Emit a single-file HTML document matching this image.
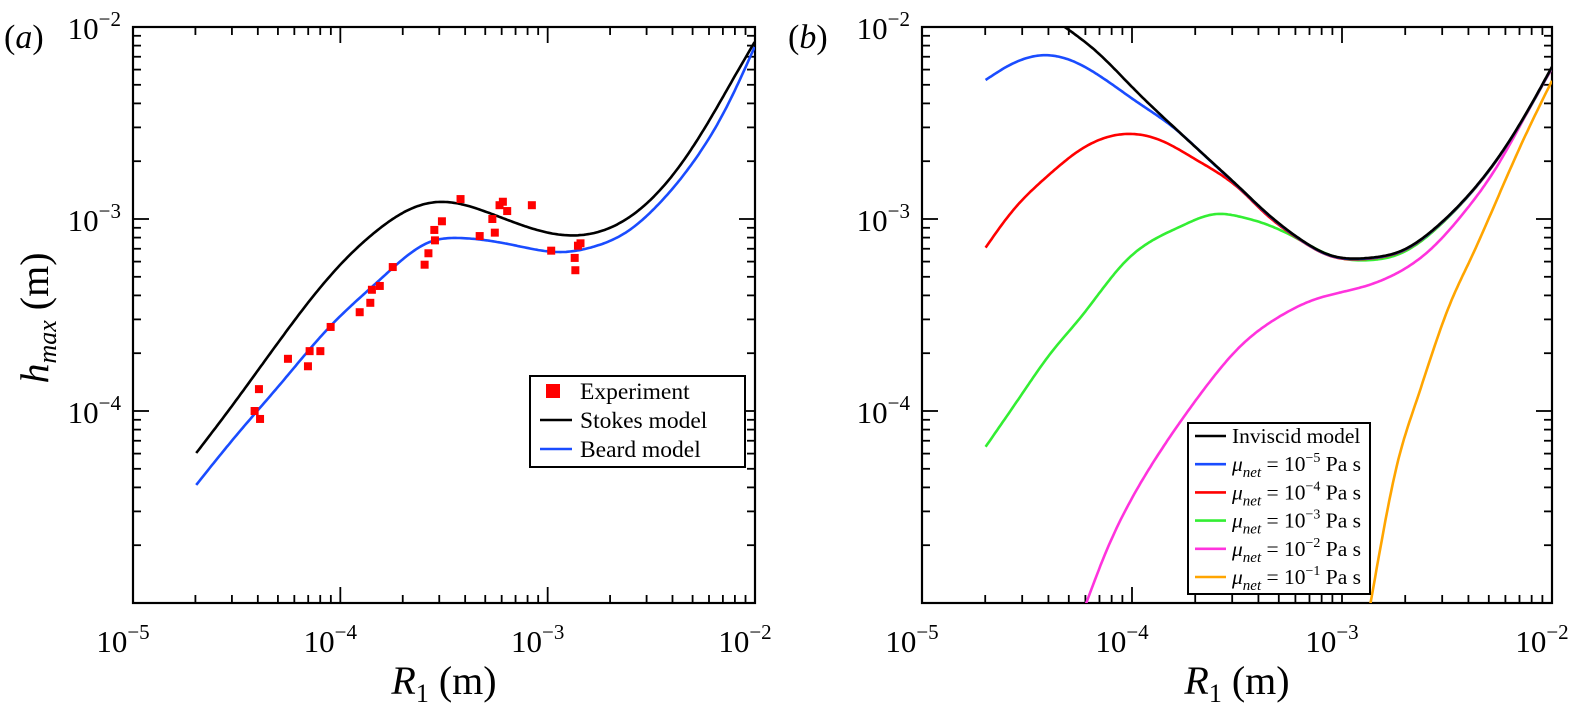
<!DOCTYPE html>
<html><head><meta charset="utf-8"><style>
html,body{margin:0;padding:0;background:#fff;}
svg{display:block;font-family:"Liberation Serif",serif;}
</style></head><body>
<svg id="fig" width="1579" height="716" viewBox="0 0 1579 716" xmlns="http://www.w3.org/2000/svg">
<defs>
<clipPath id="clipA"><rect x="133" y="27" width="622" height="576"/></clipPath>
<clipPath id="clipB"><rect x="922" y="27" width="630" height="576"/></clipPath>
</defs>
<g id="panelA"></g>
<g id="panelB"></g>
<text x="4" y="48" font-size="34">(<tspan font-style="italic">a</tspan>)</text>
<text x="788" y="48" font-size="34">(<tspan font-style="italic">b</tspan>)</text>
<text transform="translate(48,318) rotate(-90)" text-anchor="middle" font-size="40"><tspan font-style="italic">h</tspan><tspan font-style="italic" font-size="26" dy="8">max</tspan><tspan dy="-8"> (m)</tspan></text>
<text x="444" y="694" text-anchor="middle" font-size="40"><tspan font-style="italic">R</tspan><tspan font-size="26" dy="8">1</tspan><tspan dy="-8"> (m)</tspan></text>
<text x="1237" y="694" text-anchor="middle" font-size="40"><tspan font-style="italic">R</tspan><tspan font-size="26" dy="8">1</tspan><tspan dy="-8"> (m)</tspan></text>
</svg>
<script>
// ---- data (panel a) ----
const xTickExps = [-5, -4, -3, -2];
const yTickExps = [-5, -4, -3, -2];
// experiment points: R and h in units of 1e-4 m
const expR = [0.405,0.386,0.410,0.559,0.698,0.711,0.801,0.898,1.24,1.395,1.42,1.55,1.79,2.55,2.66,2.86,2.84,3.09,3.80,4.70,5.41,5.56,5.86,6.08,6.38,8.39,10.4,13.5,13.6,14.0,14.4];
const expH = [1.30,1.00,0.909,1.87,1.71,2.05,2.05,2.74,3.27,3.66,4.28,4.48,5.62,5.78,6.63,7.74,8.77,9.73,12.7,8.15,10.0,8.49,11.8,12.3,11.0,11.8,6.84,6.27,5.41,7.26,7.47];
// model curves, log10 values
const stokesLogR = [-4.695,-4.534,-4.291,-4.052,-3.811,-3.666,-3.521,-3.281,-2.929,-2.702,-2.542,-2.378,-2.219,-2.089,-2.002];
const stokesLogH = [-4.219,-3.990,-3.630,-3.300,-3.050,-2.950,-2.911,-2.969,-3.083,-3.047,-2.9375,-2.745,-2.484,-2.24,-2.078];
const beardLogR = [-4.695,-4.5,-4.291,-4.052,-3.811,-3.569,-3.425,-3.169,-2.929,-2.784,-2.620,-2.460,-2.301,-2.137,-2.002];
const beardLogH = [-4.385,-4.125,-3.862,-3.5625,-3.318,-3.12,-3.099,-3.135,-3.172,-3.146,-3.068,-2.917,-2.708,-2.417,-2.104];
// ---- data (panel b) ----
const invLogR = [-4.34,-4.327,-4.168,-3.994,-3.803,-3.613,-3.486,-3.375,-3.216,-3.057,-2.867,-2.708,-2.549,-2.390,-2.232,-2.105,-2.0];
const invLogH = [-1.985,-1.995,-2.129,-2.319,-2.519,-2.710,-2.838,-2.953,-3.092,-3.188,-3.202,-3.161,-3.040,-2.866,-2.641,-2.415,-2.207];
const mu5LogR = [-4.697,-4.597,-4.422,-4.295,-4.137,-3.978,-3.803,-3.613,-3.486,-3.375,-3.216,-3.057,-2.867,-2.708,-2.549,-2.390,-2.232,-2.105,-2.0];
const mu5LogH = [-2.276,-2.207,-2.147,-2.172,-2.267,-2.389,-2.523,-2.712,-2.840,-2.955,-3.094,-3.190,-3.204,-3.163,-3.042,-2.868,-2.643,-2.417,-2.209];
const mu4LogR = [-4.697,-4.565,-4.406,-4.248,-4.025,-3.867,-3.692,-3.486,-3.375,-3.216,-3.057,-2.867,-2.708,-2.549,-2.390,-2.232,-2.105,-2.0];
const mu4LogH = [-3.149,-2.953,-2.780,-2.641,-2.557,-2.589,-2.693,-2.845,-2.962,-3.097,-3.192,-3.206,-3.165,-3.043,-2.869,-2.644,-2.418,-2.210];
const mu3LogR = [-4.697,-4.533,-4.375,-4.248,-4.025,-3.771,-3.597,-3.486,-3.375,-3.216,-3.057,-2.867,-2.708,-2.549,-2.390,-2.232,-2.105,-2.0];
const mu3LogH = [-4.186,-3.926,-3.682,-3.517,-3.214,-3.040,-2.974,-2.988,-3.022,-3.100,-3.188,-3.214,-3.173,-3.048,-2.870,-2.645,-2.419,-2.211];
const mu2LogR = [-4.224,-4.120,-3.978,-3.819,-3.660,-3.486,-3.311,-3.137,-2.899,-2.740,-2.581,-2.422,-2.263,-2.137,-2.0];
const mu2LogH = [-5.019,-4.724,-4.411,-4.134,-3.891,-3.665,-3.517,-3.422,-3.353,-3.283,-3.161,-2.970,-2.728,-2.484,-2.215];
const mu1LogR = [-2.867,-2.819,-2.740,-2.644,-2.549,-2.478,-2.390,-2.263,-2.137,-2.0];
const mu1LogH = [-5.019,-4.724,-4.290,-3.943,-3.630,-3.422,-3.214,-2.901,-2.589,-2.280];

const NS = "http://www.w3.org/2000/svg";
function mk(tag, attrs, parent){const e=document.createElementNS(NS,tag);for(const k in attrs)e.setAttribute(k,attrs[k]);parent.appendChild(e);return e;}

function makeAxes(L,R,T,B){
  return {L,R,T,B,
    x:(lg)=>L+(lg+5)/3*(R-L),
    y:(lg)=>B-(lg+5)/3*(B-T)};
}
const A = makeAxes(133,755,27,603);
const Bx = makeAxes(922,1552,27,603);

// natural cubic spline through points (x increasing)
function splinePath(pts){
  const n=pts.length, xs=pts.map(p=>p[0]), ys=pts.map(p=>p[1]);
  const h=[],al=[],l=[1],mu=[0],z=[0],c=new Array(n).fill(0),b=[],d=[];
  for(let i=0;i<n-1;i++)h[i]=xs[i+1]-xs[i];
  for(let i=1;i<n-1;i++)al[i]=3/h[i]*(ys[i+1]-ys[i])-3/h[i-1]*(ys[i]-ys[i-1]);
  for(let i=1;i<n-1;i++){l[i]=2*(xs[i+1]-xs[i-1])-h[i-1]*mu[i-1];mu[i]=h[i]/l[i];z[i]=(al[i]-h[i-1]*z[i-1])/l[i];}
  l[n-1]=1;z[n-1]=0;c[n-1]=0;
  for(let j=n-2;j>=0;j--){c[j]=z[j]-mu[j]*c[j+1];b[j]=(ys[j+1]-ys[j])/h[j]-h[j]*(c[j+1]+2*c[j])/3;d[j]=(c[j+1]-c[j])/(3*h[j]);}
  let s="M"+xs[0].toFixed(1)+","+ys[0].toFixed(1);
  for(let i=0;i<n-1;i++){
    const steps=Math.max(2,Math.ceil(h[i]/2));
    for(let k=1;k<=steps;k++){
      const t=h[i]*k/steps;
      const y=ys[i]+b[i]*t+c[i]*t*t+d[i]*t*t*t;
      s+=" L"+(xs[i]+t).toFixed(1)+","+y.toFixed(1);
    }
  }
  return s;
}

function drawFrame(g,ax,showYLabels,prefix){
  const frame=mk("rect",{x:ax.L,y:ax.T,width:ax.R-ax.L,height:ax.B-ax.T,fill:"none",stroke:"#000","stroke-width":2.2},g);
  
  
  const tg=mk("g",{stroke:"#000","stroke-width":1.8},g);
  
  
  for(let dec=-5;dec<-2;dec++){
    for(let m=1;m<=9;m++){
      const lg=dec+Math.log10(m);
      const len=m===1?16:8;
      const x=ax.x(lg), y=ax.y(lg);
      if(m!==1||dec>-5){
        mk("line",{x1:x,y1:ax.B,x2:x,y2:ax.B-len},tg);
        mk("line",{x1:x,y1:ax.T,x2:x,y2:ax.T+len},tg);
        mk("line",{x1:ax.L,y1:y,x2:ax.L+len,y2:y},tg);
        mk("line",{x1:ax.R,y1:y,x2:ax.R-len,y2:y},tg);
      }
    }
  }
  xTickExps.forEach(e=>{
    const t=mk("text",{x:ax.x(e)-10,y:652,"font-size":31,"text-anchor":"middle"},g);
    
    
    t.innerHTML='10<tspan font-size="21" dy="-13">\u2212'+(-e)+'</tspan>';
  });
  if(showYLabels){
    yTickExps.filter(e=>e>-5).forEach(e=>{
      const t=mk("text",{x:ax.L-12,y:ax.y(e)+12,"font-size":31,"text-anchor":"end"},g);
      
      
      t.innerHTML='10<tspan font-size="21" dy="-13">\u2212'+(-e)+'</tspan>';
    });
  }
}

function drawCurve(g,ax,lr,lh,color,clip,name){
  const pts=lr.map((v,i)=>[ax.x(v),ax.y(lh[i])]);
  const p=mk("path",{d:splinePath(pts),fill:"none",stroke:color,"stroke-width":2.6,"clip-path":"url(#"+clip+")","stroke-linejoin":"round"},g);
  
  
}

// Panel A
const gA=document.getElementById("panelA");
drawFrame(gA,A,true,"panel-a");
drawCurve(gA,A,stokesLogR,stokesLogH,"#000","clipA","stokes-model-line");
drawCurve(gA,A,beardLogR,beardLogH,"#1a4cff","clipA","beard-model-line");
const gPts=mk("g",{fill:"#ff0000"},gA);


expR.forEach((r,i)=>{
  const x=A.x(Math.log10(r*1e-4)), y=A.y(Math.log10(expH[i]*1e-4));
  const s=mk("rect",{x:x-4,y:y-4,width:8,height:8},gPts);
  
  
});
// legend A
const lgA=mk("g",{},gA);


mk("rect",{x:530,y:376,width:215,height:91,fill:"#fff",stroke:"#000","stroke-width":2},lgA);
const la=[["Experiment",null],["Stokes model","#000"],["Beard model","#1a4cff"]];
la.forEach((e,i)=>{
  const y=391+i*29;
  const ge=mk("g",{},lgA);
  
  
  if(e[1]===null) mk("rect",{x:553-7,y:y-7,width:14,height:14,fill:"#ff0000"},ge);
  else mk("line",{x1:540,y1:y,x2:572,y2:y,stroke:e[1],"stroke-width":2.6},ge);
  const t=mk("text",{x:580,y:y+8,"font-size":23.5},ge);
  t.textContent=e[0];
});

// Panel B
const gB=document.getElementById("panelB");
drawFrame(gB,Bx,true,"panel-b");
drawCurve(gB,Bx,mu1LogR,mu1LogH,"#ffa500","clipB","mu-1e-1-line");
drawCurve(gB,Bx,mu2LogR,mu2LogH,"#ff33dd","clipB","mu-1e-2-line");
drawCurve(gB,Bx,mu3LogR,mu3LogH,"#33ee33","clipB","mu-1e-3-line");
drawCurve(gB,Bx,mu4LogR,mu4LogH,"#ff0000","clipB","mu-1e-4-line");
drawCurve(gB,Bx,mu5LogR,mu5LogH,"#1a4cff","clipB","mu-1e-5-line");
drawCurve(gB,Bx,invLogR,invLogH,"#000","clipB","inviscid-model-line");
const lgB=mk("g",{},gB);


mk("rect",{x:1188,y:423,width:182,height:171,fill:"#fff",stroke:"#000","stroke-width":2},lgB);
const lb=[["Inviscid model","#000",null],["","#1a4cff","5"],["","#ff0000","4"],["","#33ee33","3"],["","#ff33dd","2"],["","#ffa500","1"]];
lb.forEach((e,i)=>{
  const y=436+i*28.2;
  const ge=mk("g",{},lgB);
  
  
  mk("line",{x1:1195,y1:y,x2:1226,y2:y,stroke:e[1],"stroke-width":2.6},ge);
  const t=mk("text",{x:1232,y:y+7,"font-size":21.5},ge);
  if(e[2]===null) t.textContent=e[0];
  else t.innerHTML='<tspan font-style="italic">\u03bc</tspan><tspan font-style="italic" font-size="15" dy="6">net</tspan><tspan dy="-6"> = 10</tspan><tspan font-size="14" dy="-9">\u2212'+e[2]+'</tspan><tspan dy="9"> Pa s</tspan>';
});
</script>
</body></html>
